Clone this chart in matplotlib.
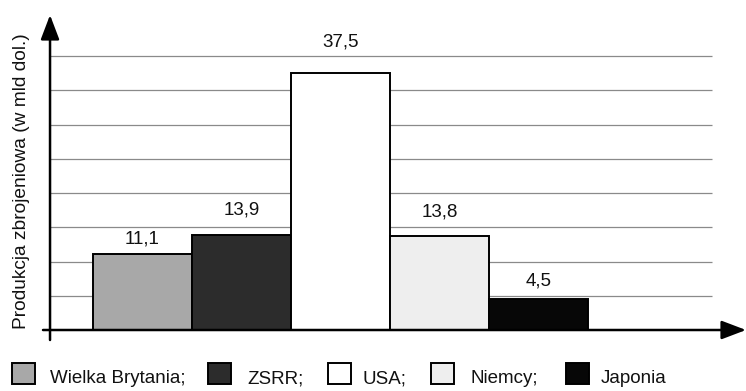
import matplotlib
matplotlib.use("Agg")
import matplotlib.pyplot as plt
from matplotlib.patches import Rectangle

plt.rcParams['font.family'] = ['Liberation Sans', 'DejaVu Sans']

countries = ['Wielka Brytania', 'ZSRR', 'USA', 'Niemcy', 'Japonia']
production = [11.1, 13.9, 37.5, 13.8, 4.5]
legend_labels = ['Wielka Brytania;', 'ZSRR;', 'USA;', 'Niemcy;', 'Japonia']
grid_values = [5, 10, 15, 20, 25, 30, 35, 40]

bar_colors = ['#a8a8a8', '#2c2c2c', '#ffffff', '#eeeeee', '#070707']
# gap in points between bar top and its value label
label_gap = [5, 12, 16, 11, 7]

W, H = 746, 391
fig = plt.figure(figsize=(W / 100, H / 100), dpi=100)
ax = fig.add_axes([43 / W, (H - 340) / H, (W - 43) / W, (340 - 15) / H])

xmin, xmax = -1.005, 6.096
ymin, ymax = -1.46, 46.0
ax.set_xlim(xmin, xmax)
ax.set_ylim(ymin, ymax)
ax.axis('off')

y_axis_x = -0.934
grid_end = 5.753
ax.hlines(grid_values, y_axis_x, grid_end, color='#8a8a8a', lw=0.9, zorder=1)

x = list(range(len(countries)))
ax.bar(x, production, width=1.0, color=bar_colors, edgecolor='black',
       linewidth=1.4, zorder=2)

for xi, v, g in zip(x, production, label_gap):
    ax.annotate(f'{v:.1f}'.replace('.', ','), (xi, v), xytext=(0, g),
                textcoords='offset points', ha='center', va='bottom',
                fontsize=13.5, color='#111111')

arrow = dict(arrowstyle='-|>,head_length=1.0,head_width=0.38',
             mutation_scale=15, lw=1.8, color='black',
             shrinkA=0, shrinkB=0)
ax.annotate('', xy=(xmax, 0), xytext=(xmin, 0), arrowprops=arrow, zorder=3)
ax.annotate('', xy=(y_axis_x, ymax), xytext=(y_axis_x, ymin),
            arrowprops=arrow, zorder=3)

fig.text(22 / W, 1 - 181 / H, 'Produkcja zbrojeniowa (w mld dol.)',
         rotation=90, ha='center', va='center', fontsize=13.8, color='#111111')

# legend along the bottom
patch_x = [12, 208, 328, 431, 566]
text_x = [50, 247, 362, 470, 601]
for px, tx, col, lab in zip(patch_x, text_x, bar_colors, legend_labels):
    fig.add_artist(Rectangle((px / W, 1 - 384 / H), 23 / W, 21 / H,
                             transform=fig.transFigure, facecolor=col,
                             edgecolor='black', linewidth=1.4))
    fig.text(tx / W, 1 - 383 / H, lab, ha='left', va='baseline',
             fontsize=13.5, color='#111111')

fig.savefig('out.png', dpi=100)
